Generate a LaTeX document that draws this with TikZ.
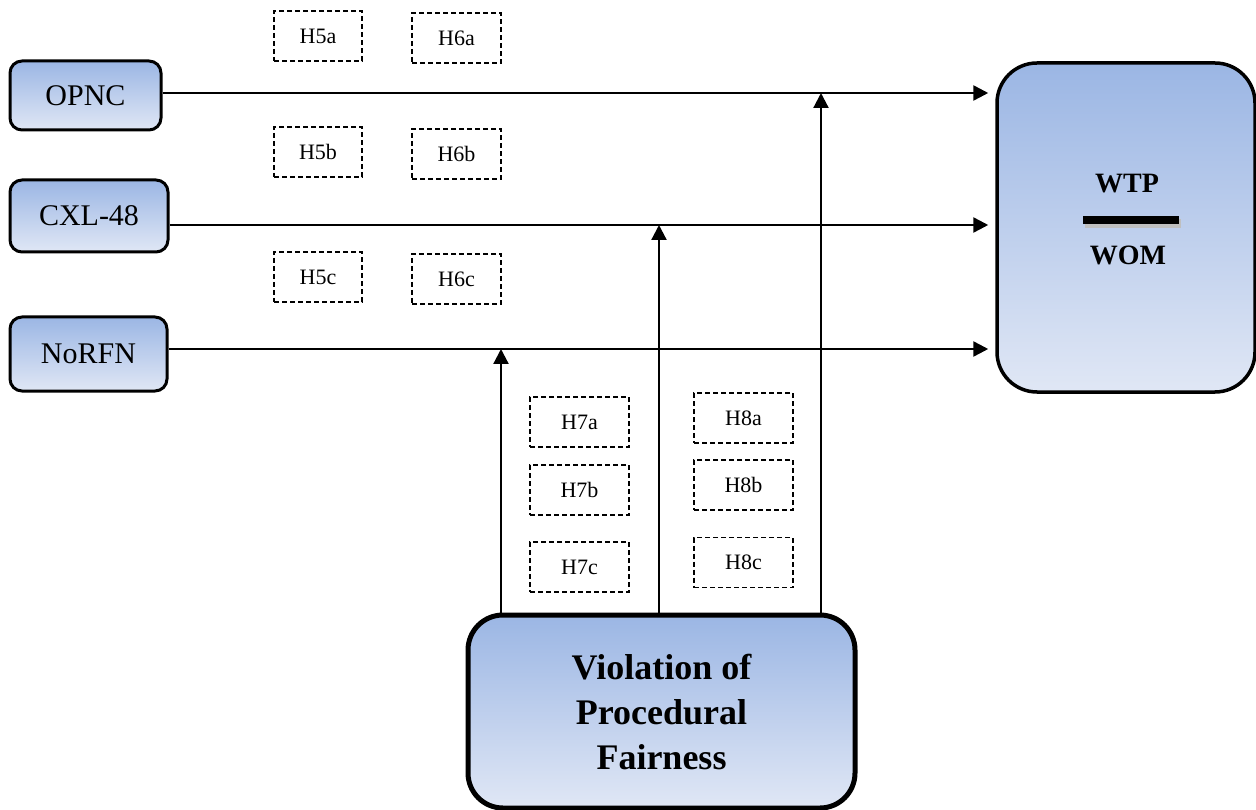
\documentclass[tikz,border=0pt]{standalone}
\usepackage{fontspec}
\setmainfont{Liberation Serif}
\usetikzlibrary{arrows.meta,calc}
\definecolor{boxtop}{RGB}{155,182,228}
\definecolor{boxbot}{RGB}{224,231,245}
\tikzset{
  gbox/.style={draw=black, rounded corners=12pt, line width=3pt, top color=boxtop, bottom color=boxbot, inner sep=0pt, font=\fontsize{30}{34}\selectfont},
  hypo/.style={draw=black, dash pattern=on 5pt off 3pt, line width=1.5pt, fill=white, minimum height=50pt, inner sep=0pt, font=\fontsize{22}{25}\selectfont},
  conn/.style={line width=2.5pt, -{Triangle[length=15pt,width=15pt]}},
}
\begin{document}
\begin{tikzpicture}[x=1pt,y=-1pt]
\useasboundingbox (0,0) rectangle (1256,810);
% source boxes
\node[gbox, minimum width=151pt, minimum height=69pt] (opnc) at (85.5,95.5) {OPNC};
\node[gbox, minimum width=158pt, minimum height=72pt] (cxl) at (89,216) {CXL-48};
\node[gbox, minimum width=157pt, minimum height=74pt] (norfn) at (88.5,354) {NoRFN};
% outcome
\node[gbox, rounded corners=40pt, line width=3.5pt, minimum width=258pt, minimum height=329pt] (wtp) at (1126,227.5) {};
\node[font=\bfseries\fontsize{28}{32}\selectfont, inner sep=0pt] (wtptext) at (1127,184) {WTP};
\node[font=\bfseries\fontsize{28}{32}\selectfont, inner sep=0pt] (womtext) at (1128,255) {WOM};
\draw[line width=9pt, black!25] (1085,223.5) -- (1181,223.5);
\draw[line width=7.5pt] (1083,220) -- (1179,220);
% moderator
\node[gbox, rounded corners=35pt, line width=5pt, minimum width=387pt, minimum height=193pt, align=center,
      font=\bfseries\fontsize{36}{45}\selectfont] (viol) at (661.5,711.5) {Violation of\\Procedural\\Fairness};
% line coordinates
\coordinate (r1) at (0,93);
\coordinate (r2) at (0,225);
\coordinate (r3) at (0,349);
\coordinate (j1) at (821,93);
\coordinate (j2) at (659,225);
\coordinate (j3) at (501,349);
% horizontal arrows
\draw[conn, shorten >=7pt] (opnc.east |- r1) -- (wtp.west |- r1);
\draw[conn, shorten >=7pt] (cxl.east |- r2) -- (wtp.west |- r2);
\draw[conn, shorten >=7pt] (norfn.east |- r3) -- (wtp.west |- r3);
% vertical arrows
\draw[conn, line width=2.2pt] (viol.north -| j1) -- (j1);
\draw[conn, line width=2.2pt] (viol.north -| j2) -- (j2);
\draw[conn, line width=2.2pt] (viol.north -| j3) -- (j3);
% hypotheses
\node[hypo, minimum width=88pt] (h5a) at (318,36) {H5a};
\node[hypo, minimum width=89pt] (h6a) at (456.5,38) {H6a};
\node[hypo, minimum width=88pt] (h5b) at (318,152) {H5b};
\node[hypo, minimum width=89pt] (h6b) at (456.5,154) {H6b};
\node[hypo, minimum width=88pt] (h5c) at (318,277) {H5c};
\node[hypo, minimum width=89pt] (h6c) at (456.5,279) {H6c};
\node[hypo, minimum width=99pt] (h7a) at (579.5,422) {H7a\hspace{14pt}};
\node[hypo, minimum width=99pt] (h7b) at (579.5,490) {H7b\hspace{14pt}};
\node[hypo, minimum width=99pt] (h7c) at (579.5,567) {H7c\hspace{14pt}};
\node[hypo, minimum width=99pt] (h8a) at (743.5,418) {H8a\hspace{14pt}};
\node[hypo, minimum width=99pt] (h8b) at (743.5,485) {H8b\hspace{14pt}};
\node[hypo, minimum width=99pt] (h8c) at (743.5,562.5) {H8c\hspace{14pt}};
\end{tikzpicture}
\end{document}
